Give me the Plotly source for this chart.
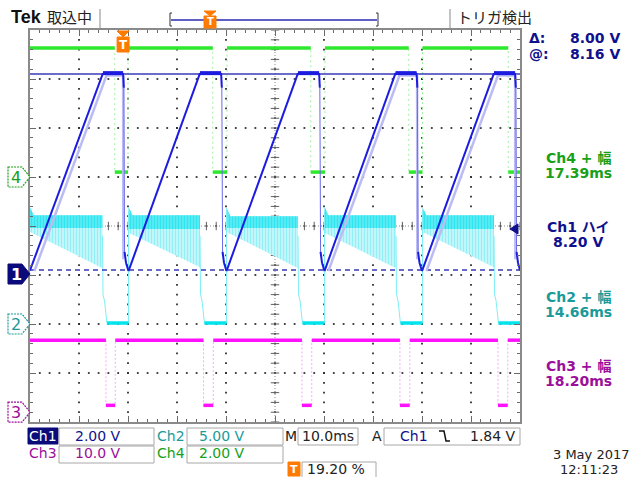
import numpy as np
import plotly.graph_objects as go

ms_per_div = 10.0
ch1_volts_per_div = 2.0
ch2_volts_per_div = 5.0
ch3_volts_per_div = 10.0
ch4_volts_per_div = 2.0
ch1_ground_div = -0.98
ch2_ground_div = -2.0
ch3_ground_div = -3.8
ch4_ground_div = 1.0

# Ch1 (blue, sawtooth)  time in ms from left edge, volts
ch1_t = [0.0, 14.9, 19.0, 19.15, 19.3, 19.6, 20.1,
         34.7, 39.0, 39.15, 39.3, 39.6, 40.1,
         54.7, 59.0, 59.15, 59.3, 59.6, 60.1,
         74.6, 78.9, 79.05, 79.2, 79.5, 80.0,
         94.7, 99.0, 99.15, 99.3, 99.6, 100.0]
ch1_v = [0.15, 8.2, 8.2, 7.6, 0.9, 0.45, 0.12,
         8.2, 8.2, 7.6, 0.9, 0.45, 0.12,
         8.2, 8.2, 7.6, 0.9, 0.45, 0.12,
         8.2, 8.2, 7.6, 0.9, 0.45, 0.12,
         8.2, 8.2, 7.6, 0.9, 0.45, 0.15]
# Ch1 persistence ghost
ch1_ghost_t = [0.9, 15.6, 19.0, 19.05, None, 60.9, 75.4, 79.0, 79.05, None, 80.9, 95.5, 99.0, 99.05]
ch1_ghost_v = [0.12, 8.1, 8.1, 0.6, None, 0.12, 8.1, 8.1, 0.6, None, 0.12, 8.1, 8.1, 0.6]

# cursors
cursor_at_v = 8.16
cursor_delta_v = 8.00
ch1_high_v = 8.20
trigger_level_v = 1.84

# Ch4 (green square wave)
ch4_t = [0.0, 17.3, 17.3, 20.0, 20.0, 37.3, 37.3, 40.2, 40.2, 57.3, 57.3, 60.2,
         60.2, 77.3, 77.3, 80.1, 80.1, 97.6, 97.6, 100.0]
ch4_v = [5.27, 5.27, 0.2, 0.2, 5.27, 5.27, 0.2, 0.2, 5.27, 5.27, 0.2, 0.2,
         5.27, 5.27, 0.2, 0.2, 5.27, 5.27, 0.2, 0.2]

# Ch3 (magenta pulses)
ch3_t = [0.0, 15.5, 15.5, 17.4, 17.4, 35.4, 35.4, 37.4, 37.4, 55.5, 55.5, 57.5,
         57.5, 75.5, 75.5, 77.5, 77.5, 95.5, 95.5, 97.5, 97.5, 100.0]
ch3_v = [14.7, 14.7, 1.4, 1.4, 14.7, 14.7, 1.4, 1.4, 14.7, 14.7, 1.4, 1.4,
         14.7, 14.7, 1.4, 1.4, 14.7, 14.7, 1.4, 1.4, 14.7, 14.7]

# Ch2 (cyan) noisy high band per cycle + low level
ch2_band_start = [0.0, 20.1, 40.1, 60.1, 80.1]
ch2_band_end = [14.8, 34.7, 54.7, 74.7, 94.7]
ch2_band_peak = [11.9, 12.0, 11.9, 12.0, 11.9]
ch2_band_top = [11.1, 11.1, 11.0, 11.1, 11.1]
ch2_band_core = [9.8, 9.7, 9.8, 9.8, 9.7]
ch2_band_low_start = [9.4, 9.3, 9.4, 9.3, 9.4]
ch2_band_low_end = [5.7, 5.8, 5.7, 5.7, 5.8]
ch2_t = [14.8, 14.9, 15.2, 15.7, 20.1, 20.1, None,
         34.7, 34.8, 35.1, 35.6, 40.1, 40.1, None,
         54.7, 54.8, 55.1, 55.6, 60.1, 60.1, None,
         74.7, 74.8, 75.1, 75.6, 80.1, 80.1, None,
         94.7, 94.8, 95.1, 95.6, 100.0]
ch2_v = [9.0, 3.0, 2.4, 0.1, 0.1, 11.5, None,
         9.0, 3.0, 2.4, 0.1, 0.1, 11.5, None,
         9.0, 3.0, 2.4, 0.1, 0.1, 11.5, None,
         9.0, 3.0, 2.4, 0.1, 0.1, 11.5, None,
         9.0, 3.0, 2.4, 0.1, 0.1]

meas_ch4 = "17.39ms"
meas_ch1 = "8.20 V"
meas_ch2 = "14.66ms"
meas_ch3 = "18.20ms"
trigger_pos_pct = 19.20

# ---------------- helpers ----------------
W, H = 633, 477
L, R, T, B = 30, 520, 30, 422


def px(x):
    return (x - L) / (R - L)


def py(y):
    return (B - y) / (B - T)


def X(ts):
    return [None if t is None else t / ms_per_div for t in ts]


def Y(vs, ground, scale):
    return [None if v is None else ground + v / scale for v in vs]


def split_segments(ts, vs, test):
    xs, ys = [], []
    for i in range(len(ts) - 1):
        if ts[i] is None or ts[i + 1] is None:
            continue
        if test(ts[i], vs[i], ts[i + 1], vs[i + 1]):
            xs += [ts[i], ts[i + 1], None]
            ys += [vs[i], vs[i + 1], None]
    return xs, ys


def is_flat(t0, v0, t1, v1):
    return v0 == v1 and t1 > t0


def is_steep(t0, v0, t1, v1):
    return abs(v1 - v0) > 20 * max(t1 - t0, 1e-9)


def not_steep(t0, v0, t1, v1):
    return not is_steep(t0, v0, t1, v1)


C1 = "#1c1ce0"
C1_TXT = "#10108c"
C2 = "#00e4ee"
C2_TXT = "#1a9a9a"
C3 = "#ff10ff"
C3_TXT = "#9a109a"
C4 = "#2ee82e"
C4_TXT = "#18a018"
ORANGE = "#ff7a00"
FONT = "DejaVu Sans, Noto Sans CJK JP"

fig = go.Figure()

# graticule dots (every 0.2 div along each division line)
fine_x = np.round(np.arange(0.2, 9.81, 0.2), 3)
fine_y = np.round(np.arange(-3.8, 3.81, 0.2), 3)
gx, gy = [], []
for xv in range(1, 10):
    gx += [xv] * len(fine_y)
    gy += list(fine_y)
for yv in range(-3, 4):
    gx += list(fine_x)
    gy += [yv] * len(fine_x)
fig.add_trace(go.Scatter(x=gx, y=gy, mode="markers",
                         marker=dict(symbol="square", size=1.8, color="#303030", line=dict(width=0)),
                         hoverinfo="skip"))

# center cross ticks
cx = np.round(np.arange(0, 10.001, 0.2), 3)
cy = np.round(np.arange(-4, 4.001, 0.2), 3)
fig.add_trace(go.Scatter(x=[0, 10], y=[0, 0], mode="lines",
                         line=dict(color="#8a8a8a", width=1, dash="1px,2px"), hoverinfo="skip"))
fig.add_trace(go.Scatter(x=[5, 5], y=[-4, 4], mode="lines",
                         line=dict(color="#8a8a8a", width=1, dash="1px,2px"), hoverinfo="skip"))
fig.add_trace(go.Scatter(x=cx, y=np.zeros_like(cx), mode="markers",
                         marker=dict(symbol="line-ns", size=6, line=dict(color="#606060", width=1)),
                         hoverinfo="skip"))
fig.add_trace(go.Scatter(x=np.full_like(cy, 5.0), y=cy, mode="markers",
                         marker=dict(symbol="line-ew", size=6, line=dict(color="#606060", width=1)),
                         hoverinfo="skip"))

# Ch2 band (outer, with vertical streaks)
bx, by, kx, ky = [], [], [], []
for s, e, pk, tp, co, ls, le in zip(ch2_band_start, ch2_band_end, ch2_band_peak, ch2_band_top,
                                    ch2_band_core, ch2_band_low_start, ch2_band_low_end):
    bx += [s, s, s + 0.8, e, e, s, None]
    by += [ls, pk, tp, tp, le, ls, None]
    kx += [s, s, s + 0.8, e, e, s, None]
    ky += [co, pk, tp, tp, co, co, None]
fig.add_trace(go.Scatter(x=X(bx), y=Y(by, ch2_ground_div, ch2_volts_per_div), mode="lines",
                         fill="toself", line=dict(color="rgba(0,0,0,0)", width=0),
                         fillcolor="#b6f3f8",
                         fillpattern=dict(shape="|", fgcolor="#5ae9f2", bgcolor="#c8f7fb",
                                          size=3, solidity=0.4),
                         hoverinfo="skip"))
fig.add_trace(go.Scatter(x=X(kx), y=Y(ky, ch2_ground_div, ch2_volts_per_div), mode="lines",
                         fill="toself", line=dict(color="rgba(0,0,0,0)", width=0),
                         fillcolor="#3ee8f2",
                         fillpattern=dict(shape="|", fgcolor="#00dbe8", bgcolor="#62eef6",
                                          size=3, solidity=0.5),
                         hoverinfo="skip"))
# Ch2 edges / low level
fig.add_trace(go.Scatter(x=X(ch2_t), y=Y(ch2_v, ch2_ground_div, ch2_volts_per_div), mode="lines",
                         line=dict(color="#7feff6", width=1), hoverinfo="skip"))
sx, sy = split_segments(ch2_t, ch2_v, is_flat)
fig.add_trace(go.Scatter(x=X(sx), y=Y(sy, ch2_ground_div, ch2_volts_per_div), mode="lines",
                         line=dict(color=C2, width=3.5), hoverinfo="skip"))

# Ch3
fig.add_trace(go.Scatter(x=X(ch3_t), y=Y(ch3_v, ch3_ground_div, ch3_volts_per_div), mode="lines",
                         line=dict(color="#f8a8f8", width=1, dash="2px,2px"), hoverinfo="skip"))
sx, sy = split_segments(ch3_t, ch3_v, is_flat)
fig.add_trace(go.Scatter(x=X(sx), y=Y(sy, ch3_ground_div, ch3_volts_per_div), mode="lines",
                         line=dict(color=C3, width=3.5), hoverinfo="skip"))

# Ch4
fig.add_trace(go.Scatter(x=X(ch4_t), y=Y(ch4_v, ch4_ground_div, ch4_volts_per_div), mode="lines",
                         line=dict(color="#9cf29c", width=1, dash="2px,3px"), hoverinfo="skip"))
sx, sy = split_segments(ch4_t, ch4_v, is_flat)
fig.add_trace(go.Scatter(x=X(sx), y=Y(sy, ch4_ground_div, ch4_volts_per_div), mode="lines",
                         line=dict(color=C4, width=3.5), hoverinfo="skip"))

# Ch1 cursors
fig.add_trace(go.Scatter(x=[0, 10], y=Y([cursor_at_v] * 2, ch1_ground_div, ch1_volts_per_div),
                         mode="lines", line=dict(color="#3a3ab8", width=1.5), hoverinfo="skip"))
fig.add_trace(go.Scatter(x=[0, 10], y=Y([cursor_at_v - cursor_delta_v] * 2, ch1_ground_div, ch1_volts_per_div),
                         mode="lines", line=dict(color="#3a3ab8", width=1.5, dash="5px,4px"), hoverinfo="skip"))

# Ch1 ghost + trace
fig.add_trace(go.Scatter(x=X(ch1_ghost_t), y=Y(ch1_ghost_v, ch1_ground_div, ch1_volts_per_div),
                         mode="lines", line=dict(color="#bcbcf4", width=2.5), hoverinfo="skip"))
sx, sy = split_segments(ch1_t, ch1_v, is_steep)
fig.add_trace(go.Scatter(x=X(sx), y=Y(sy, ch1_ground_div, ch1_volts_per_div),
                         mode="lines", line=dict(color="#6a6aea", width=1), hoverinfo="skip"))
sx, sy = split_segments(ch1_t, ch1_v, not_steep)
fig.add_trace(go.Scatter(x=X(sx), y=Y(sy, ch1_ground_div, ch1_volts_per_div),
                         mode="lines", line=dict(color=C1, width=2), hoverinfo="skip"))
sx, sy = split_segments(ch1_t, ch1_v, is_flat)
fig.add_trace(go.Scatter(x=X(sx), y=Y(sy, ch1_ground_div, ch1_volts_per_div),
                         mode="lines", line=dict(color=C1, width=4), hoverinfo="skip"))

# ---------------- annotations ----------------
ann = []


def text(x, y, s, color, size=14, xanchor="center", family=FONT, bold=False):
    ann.append(dict(x=px(x), y=py(y), xref="paper", yref="paper", text=("<b>%s</b>" % s) if bold else s,
                    showarrow=False, xanchor=xanchor, yanchor="middle",
                    font=dict(color=color, size=size, family=family)))


shapes = []


def rect(x0, y0, x1, y1, line="#a8a8a8", fill=None, width=1):
    shapes.append(dict(type="rect", xref="paper", yref="paper", x0=px(x0), x1=px(x1),
                       y0=py(y1), y1=py(y0), line=dict(color=line, width=width),
                       fillcolor=fill if fill else "rgba(0,0,0,0)", layer="above"))


def path(pts, line="#000", fill=None, width=1, dash="solid", closed=True):
    d = "M " + " L ".join("%f,%f" % (px(a), py(b)) for a, b in pts) + (" Z" if closed else "")
    shapes.append(dict(type="path", xref="paper", yref="paper", path=d,
                       line=dict(color=line, width=width, dash=dash),
                       fillcolor=fill if fill else "rgba(0,0,0,0)", layer="above"))


# header
text(9, 17, "<b>Tek</b>", "#111", 18, "left", "Liberation Sans, Arial")
text(45, 17, "取込中", "#222", 15, "left", "Noto Sans CJK JP")
path([(100, 9), (100, 28)], line="#c4c4c4", width=2, closed=False)
path([(450, 9), (450, 28)], line="#c4c4c4", width=2, closed=False)
text(455, 17, "トリガ検出", "#222", 15, "left", "Noto Sans CJK JP")
path([(172, 13), (170, 13), (170, 26), (172, 26)], line="#333", width=1, closed=False)
path([(376, 13), (378, 13), (378, 26), (376, 26)], line="#333", width=1, closed=False)
path([(171, 20), (377, 20)], line="#2a2ab0", width=1.5, closed=False)
path([(204, 11), (216, 11), (210, 16)], line=ORANGE, fill=ORANGE)
rect(204, 16, 216, 28, line=ORANGE, fill=ORANGE)
text(210, 22, "<b>T</b>", "#fff", 10)

# trigger marker on plot top
trig_x = L + (R - L) * trigger_pos_pct / 100.0 - 1
path([(trig_x - 6, 31), (trig_x + 6, 31), (trig_x, 37)], line=ORANGE, fill=ORANGE)
rect(trig_x - 6, 37, trig_x + 6, 52, line=ORANGE, fill=ORANGE)
text(trig_x, 45, "<b>T</b>", "#fff", 12)

# right panel
text(527, 38, "<b>Δ:</b>", C1_TXT, 14, "left")
text(622, 38, "<b>8.00 V</b>", C1_TXT, 14, "right")
text(527, 54, "<b>@:</b>", C1_TXT, 14, "left")
text(622, 54, "<b>8.16 V</b>", C1_TXT, 14, "right")
text(578, 158, "Ch4 + 幅", C4_TXT, 14, bold=True)
text(578, 173, meas_ch4, C4_TXT, 14, bold=True)
text(578, 227, "Ch1 ハイ", C1_TXT, 14, bold=True)
text(578, 242, meas_ch1, C1_TXT, 14, bold=True)
text(578, 297, "Ch2 + 幅", C2_TXT, 14, bold=True)
text(578, 312, meas_ch2, C2_TXT, 14, bold=True)
text(578, 366, "Ch3 + 幅", C3_TXT, 14, bold=True)
text(578, 381, meas_ch3, C3_TXT, 14, bold=True)

# trigger level marker on right edge
ty = 226 - (ch1_ground_div + trigger_level_v / ch1_volts_per_div) * 49
path([(518, ty - 5), (510, ty), (518, ty + 5)], line="#10108c", fill="#10108c")

# channel markers on left
def chan_marker(ground, label, color, filled):
    yc = 226 - ground * 49
    pts = [(8, yc - 10), (22, yc - 10), (30, yc), (22, yc + 10), (8, yc + 10)]
    if filled:
        path(pts, line=color, fill=color)
        text(16, yc, "<b>%s</b>" % label, "#fff", 16)
    else:
        path(pts, line=color, fill="#fff", dash="2px,1px", width=1.2)
        text(16, yc, label, color, 16)


chan_marker(ch4_ground_div, "4", C4_TXT, False)
chan_marker(ch1_ground_div, "1", "#0a0a7a", True)
chan_marker(ch2_ground_div, "2", C2_TXT, False)
chan_marker(ch3_ground_div, "3", C3_TXT, False)

# bottom readouts
rect(28, 428, 58, 444, line="#0a0a7a", fill="#0a0a7a")
text(43, 436, "Ch1", "#fff", 14)
rect(59, 428, 154, 445)
text(98, 436, "2.00 V", C1_TXT, 14)
text(171, 436, "Ch2", C2_TXT, 14)
rect(187, 428, 283, 445)
text(222, 436, "5.00 V", C2_TXT, 14)
text(291, 436, "M", "#222", 14)
rect(298, 428, 358, 445)
text(328, 436, "10.0ms", "#222", 14)
text(377, 436, "A", "#222", 14)
rect(384, 428, 520, 445)
text(414, 436, "Ch1", C1_TXT, 14)
path([(439, 431), (444, 431), (446, 441), (450, 441)], line="#111", width=1.5, closed=False)
text(518, 436, "1.84 V", "#222", 14, "right")
text(43, 453, "Ch3", C3_TXT, 14)
rect(59, 446, 154, 463)
text(98, 453, "10.0 V", C3_TXT, 14)
text(171, 453, "Ch4", C4_TXT, 14)
rect(187, 446, 283, 463)
text(222, 453, "2.00 V", C4_TXT, 14)
rect(288, 462, 300, 476, line=ORANGE, fill=ORANGE)
text(294, 469, "<b>T</b>", "#fff", 11)
rect(302, 462, 376, 480)
text(305, 469, "%.2f %%" % trigger_pos_pct, "#222", 14, "left")
text(632, 454, "3 May 2017", "#222", 13, "right")
text(620, 470, "12:11:23", "#222", 13, "right")

axis_common = dict(showgrid=False, zeroline=False, showticklabels=False, ticks="inside", ticklen=6,
                   tickcolor="#6a6a6a", showline=True, linecolor="#8a8a8a", linewidth=2,
                   mirror="ticks", dtick=1, fixedrange=True,
                   minor=dict(ticks="inside", ticklen=3, dtick=0.2, tickcolor="#6a6a6a", showgrid=False))

fig.update_layout(
    width=W, height=H, autosize=False,
    margin=dict(l=L, r=W - R, t=T, b=H - B, pad=0),
    paper_bgcolor="#ffffff", plot_bgcolor="#ffffff",
    showlegend=False,
    xaxis=dict(range=[0, 10], tick0=0, **axis_common),
    yaxis=dict(range=[-4, 4], tick0=-4, **axis_common),
    annotations=ann, shapes=shapes,
)

fig.write_html("out.html", config={"displayModeBar": False},
               post_script="document.body.style.margin='0';document.body.style.overflow='hidden';")
